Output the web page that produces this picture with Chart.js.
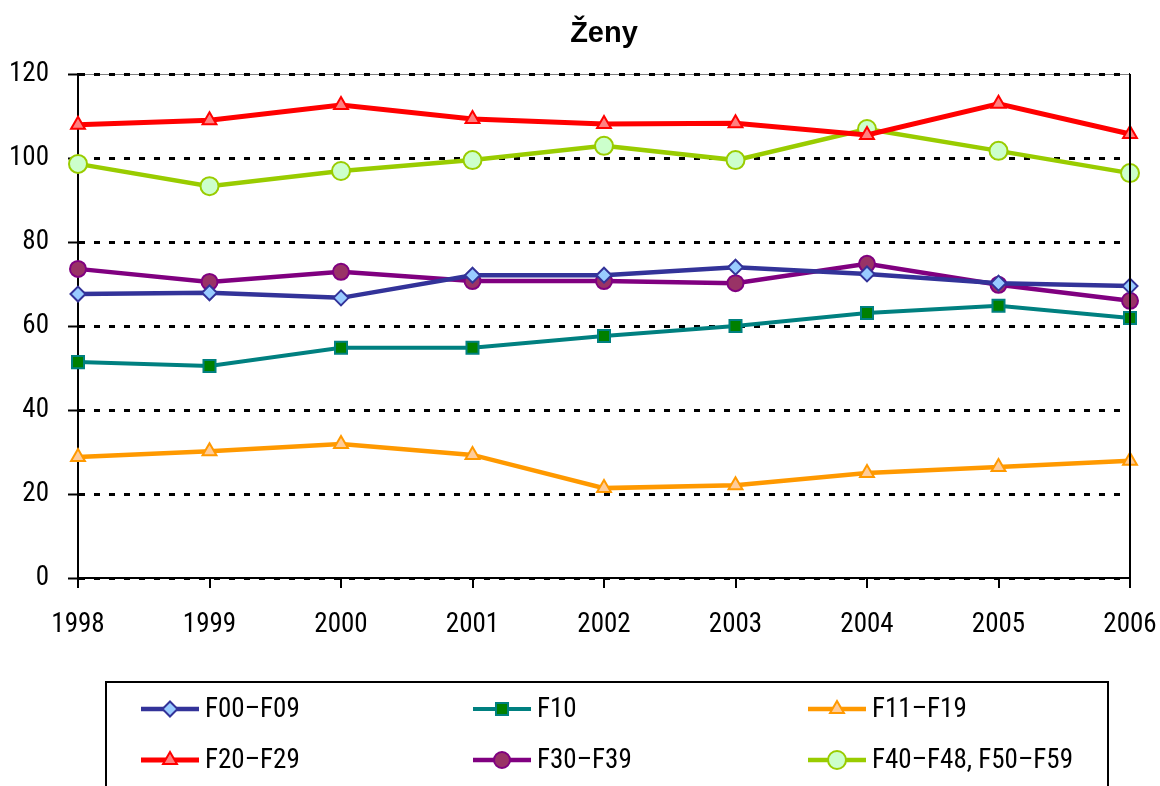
<!DOCTYPE html>
<html>
<head>
<meta charset="utf-8">
<script src="https://cdn.jsdelivr.net/npm/chart.js@4.4.1/dist/chart.umd.min.js"></script>
<style>
  html, body { margin: 0; padding: 0; background: #fff; }
</style>
</head>
<body>
<canvas id="zeny-chart" width="1160" height="786"></canvas>
<script>
// data
const chartTitle = '\u017Deny';
const years = ['1998', '1999', '2000', '2001', '2002', '2003', '2004', '2005', '2006'];
const f00_f09 = [67.6, 67.9, 66.7, 72.1, 72.1, 74.0, 72.4, 70.2, 69.5];
const f10 = [51.4, 50.5, 54.8, 54.8, 57.6, 60.0, 63.1, 64.8, 61.9];
const f11_f19 = [28.8, 30.2, 31.9, 29.3, 21.4, 22.1, 25.0, 26.4, 27.9];
const f20_f29 = [107.9, 109.0, 112.6, 109.3, 108.1, 108.3, 105.5, 112.9, 105.7];
const f30_f39 = [73.6, 70.5, 72.9, 70.7, 70.7, 70.2, 74.8, 69.8, 66.0];
const f40_f59 = [98.6, 93.3, 96.9, 99.5, 102.9, 99.5, 106.9, 101.7, 96.4];
const yTicks = [0, 20, 40, 60, 80, 100, 120];

const narrow = '"Roboto Condensed", "DejaVu Sans Condensed", sans-serif';

function series(label, data, line, width, fill, border, style, radius) {
    return {
        label: label,
        data: data,
        borderColor: line,
        borderWidth: width,
        pointStyle: style,
        pointRadius: radius,
        pointBackgroundColor: fill,
        pointBorderColor: border,
        pointBorderWidth: 2,
        tension: 0,
        fill: false,
    };
}

const datasets = [
    series('F00\u2013F09', f00_f09, '#333399', 4.5, '#99ccff', '#333399', 'rectRot', 7.5),
    series('F10', f10, '#008080', 4, '#008000', '#008080', 'rect', 8.5),
    series('F11\u2013F19', f11_f19, '#ff9900', 4.5, '#ffcc99', '#ff9900', 'triangle', 8),
    series('F20\u2013F29', f20_f29, '#ff0000', 5, '#ff8080', '#ff0000', 'triangle', 8),
    series('F30\u2013F39', f30_f39, '#800080', 4.5, '#993366', '#800080', 'circle', 8),
    series('F40\u2013F48, F50\u2013F59', f40_f59, '#99cc00', 4.5, '#ccffcc', '#99cc00', 'circle', 9),
];

function markerPath(ctx, style, r, x, y) {
    ctx.beginPath();
    if (style === 'rectRot') {
        ctx.moveTo(x, y - r); ctx.lineTo(x + r, y); ctx.lineTo(x, y + r); ctx.lineTo(x - r, y);
        ctx.closePath();
    } else if (style === 'rect') {
        const s = r * Math.SQRT1_2;
        ctx.rect(x - s, y - s, 2 * s, 2 * s);
    } else if (style === 'triangle') {
        ctx.moveTo(x, y - r); ctx.lineTo(x + r * 0.87, y + r * 0.5); ctx.lineTo(x - r * 0.87, y + r * 0.5);
        ctx.closePath();
    } else {
        ctx.arc(x, y, r, 0, Math.PI * 2);
    }
}

// title over the plot, grey frame top, right border and the boxed legend
const framePlugin = {
    id: 'frame',
    beforeDraw(chart) {
        const ctx = chart.ctx;
        const a = chart.chartArea;
        ctx.save();
        ctx.strokeStyle = '#808080';
        ctx.lineWidth = 1;
        ctx.beginPath();
        ctx.moveTo(a.left, a.top + 0.5);
        ctx.lineTo(a.right, a.top + 0.5);
        ctx.stroke();
        ctx.restore();
    },
    afterDraw(chart) {
        const ctx = chart.ctx;
        const a = chart.chartArea;
        ctx.save();
        ctx.fillStyle = '#000';
        ctx.font = 'bold 29px "Liberation Sans", Arial, sans-serif';
        ctx.textAlign = 'center';
        ctx.textBaseline = 'middle';
        ctx.fillText(chartTitle, (a.left + a.right) / 2, 34);

        ctx.strokeStyle = '#000';
        ctx.lineWidth = 2;
        ctx.beginPath();
        ctx.moveTo(a.right, a.top);
        ctx.lineTo(a.right, a.bottom);
        ctx.stroke();

        // legend box
        ctx.strokeRect(106, 682, 1002, 140);

        const cols = [141, 473, 808];
        const rows = [709, 760];
        ctx.font = '27px ' + narrow;
        ctx.textAlign = 'left';
        chart.data.datasets.forEach((ds, i) => {
            const x = cols[i % 3];
            const y = rows[Math.floor(i / 3)];
            ctx.strokeStyle = ds.borderColor;
            ctx.lineWidth = ds.borderWidth;
            ctx.beginPath();
            ctx.moveTo(x, y);
            ctx.lineTo(x + 58, y);
            ctx.stroke();
            markerPath(ctx, ds.pointStyle, ds.pointRadius, x + 29, y);
            ctx.fillStyle = ds.pointBackgroundColor;
            ctx.strokeStyle = ds.pointBorderColor;
            ctx.lineWidth = 2;
            ctx.fill();
            ctx.stroke();
            ctx.fillStyle = '#000';
            ctx.fillText(ds.label, x + 64, y + 1);
        });
        ctx.restore();
    }
};

const ctx = document.getElementById('zeny-chart').getContext('2d');
new Chart(ctx, {
    type: 'line',
    data: { labels: years, datasets: datasets },
    options: {
        responsive: false,
        animation: false,
        devicePixelRatio: 1,
        layout: { padding: { left: 0, right: 30, top: 74, bottom: 0 } },
        plugins: {
            legend: { display: false },
            tooltip: { enabled: false },
            title: { display: false },
        },
        scales: {
            x: {
                offset: false,
                border: { display: true, color: '#000', width: 2 },
                grid: {
                    display: true,
                    drawOnChartArea: false,
                    drawTicks: true,
                    tickLength: 10,
                    tickColor: '#000',
                    lineWidth: 2,
                },
                ticks: {
                    color: '#000',
                    padding: 21,
                    maxRotation: 0,
                    autoSkip: false,
                    font: { family: narrow, size: 27 },
                },
                afterFit(scale) {
                    scale.height = 208;
                    scale.paddingLeft = 0;
                    scale.paddingRight = 0;
                },
            },
            y: {
                min: 0,
                max: 120,
                afterBuildTicks(scale) {
                    scale.ticks = yTicks.map((v) => ({ value: v }));
                },
                border: { display: true, color: '#000', width: 2, dash: [6, 9] },
                grid: {
                    color: '#000',
                    lineWidth: 3,
                    drawTicks: true,
                    tickLength: 10,
                    tickWidth: 2,
                    tickColor: '#000',
                    tickBorderDash: [],
                },
                ticks: {
                    color: '#000',
                    padding: 19,
                    font: { family: narrow, size: 27 },
                },
                afterFit(scale) {
                    scale.width = 78;
                    scale.paddingTop = 0;
                    scale.paddingBottom = 0;
                },
            },
        },
    },
    plugins: [framePlugin],
});
</script>
</body>
</html>
